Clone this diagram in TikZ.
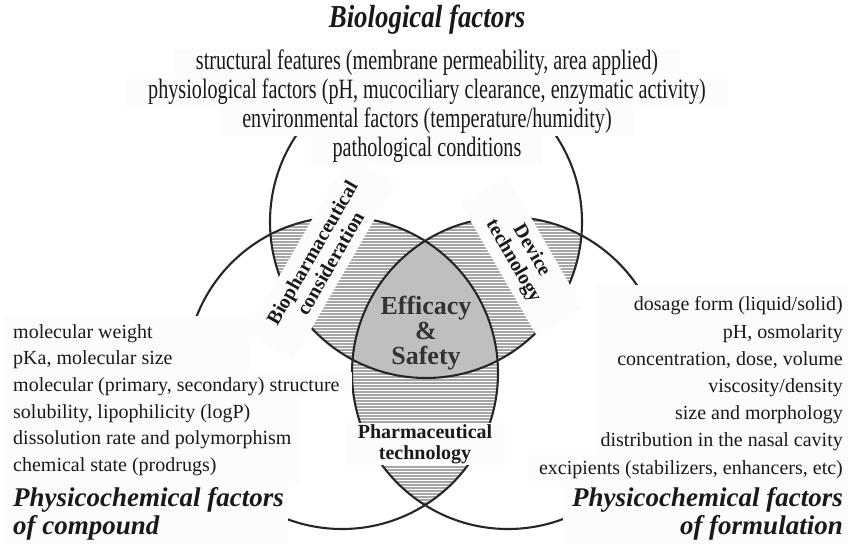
\documentclass[tikz,border=0pt]{standalone}
\usepackage{fontspec}
\setmainfont{Liberation Serif}
\newfontfamily\condserif[FakeStretch=0.72]{Liberation Serif}
\newfontfamily\headserif[FakeStretch=0.84]{Liberation Serif}
\begin{document}
\begin{tikzpicture}[x=1pt,y=-1pt,
        ring/.style={draw=black!85,line width=2.1pt},
        hatch/.style={black!35,line width=1.3pt},
        panel/.style={fill=black!1},
        item/.style={text=black!90,inner sep=0pt,font=\fontsize{20}{26.6}\selectfont},
        head/.style={text=black!90,inner sep=0pt,font=\fontsize{27}{28}\selectfont\bfseries\itshape},
        tag/.style={panel,text=black!90,inner sep=0pt,align=center,font=\fontsize{20}{21}\selectfont\bfseries}]
    \useasboundingbox (0,0) rectangle (848,544);
    \fill[white] (0,0) rectangle (848,544);
    \coordinate (bio) at (426,222);
    \coordinate (cmp) at (342,373);
    \coordinate (frm) at (508,373);
    \begin{scope}
        \clip (bio) circle[radius=156pt];
        \clip (cmp) circle[radius=156pt];
        \foreach \y in {170,173,...,530}
            \draw[hatch] (180,\y) -- (680,\y);
    \end{scope}
    \begin{scope}
        \clip (bio) circle[radius=156pt];
        \clip (frm) circle[radius=156pt];
        \foreach \y in {170,173,...,530}
            \draw[hatch] (180,\y) -- (680,\y);
    \end{scope}
    \begin{scope}
        \clip (cmp) circle[radius=156pt];
        \clip (frm) circle[radius=156pt];
        \foreach \y in {170,173,...,530}
            \draw[hatch] (180,\y) -- (680,\y);
    \end{scope}
    \begin{scope}
        \clip (bio) circle[radius=156pt];
        \clip (cmp) circle[radius=156pt];
        \fill[black!25] (frm) circle[radius=156pt];
    \end{scope}
    \foreach \c in {bio,cmp,frm}
        \draw[ring] (\c) circle[radius=156pt];
    \fill[panel] (4,316) rectangle (250,486);
    \fill[panel] (4,372) rectangle (352,398);
    \fill[panel] (4,398) rectangle (300,486);
    \fill[panel] (4,486) rectangle (288,544);
    \fill[panel] (596,285) rectangle (848,486);
    \fill[panel] (528,455) rectangle (848,486);
    \fill[panel] (563,486) rectangle (848,544);
    \node[text=black!90,inner sep=0pt,font=\headserif\fontsize{32}{32}\selectfont\bfseries\itshape] (biohead) at (427,20) {Biological factors};
    \foreach \t [count=\i] in {{structural features (membrane permeability, area applied)},
            {physiological factors (pH, mucociliary clearance, enzymatic activity)},
            {environmental factors (temperature/humidity)},
            {pathological conditions}}
        \node[panel,text=black!90,inner xsep=22pt,inner ysep=0pt,minimum height=29pt,font=\condserif\fontsize{28}{29}\selectfont] (bioline\i) at (427,34+29*\i) {\t};
    \node[item,anchor=west,align=left] (cmplist) at (13,400) {molecular weight\\pKa, molecular size\\molecular (primary, secondary) structure\\solubility, lipophilicity (logP)\\dissolution rate and polymorphism\\chemical state (prodrugs)};
    \node[item,anchor=east,align=right,font=\fontsize{20}{27.2}\selectfont] (frmlist) at (843,387.5) {dosage form (liquid/solid)\\pH, osmolarity\\concentration, dose, volume\\viscosity/density\\size and morphology\\distribution in the nasal cavity\\excipients (stabilizers, enhancers, etc)};
    \node[head,anchor=west,align=left] (cmphead) at (13,514) {Physicochemical factors\\of compound};
    \node[head,anchor=east,align=right] (frmhead) at (843,514) {Physicochemical factors\\of formulation};
    \node[tag,rotate=60,minimum width=205pt,minimum height=54pt] (biopharm) at (321,258) {Biopharmaceutical\\consideration};
    \node[tag,rotate=-60,minimum width=152pt,minimum height=54pt] (device) at (522,256) {Device\\technology};
    \node[tag,minimum width=160pt,minimum height=42pt] (pharmtech) at (425,444) {Pharmaceutical\\technology};
    \node[text=black!80,inner sep=0pt,align=center,font=\fontsize{26}{25}\selectfont\bfseries] (core) at (426,333) {Efficacy\\\&\\Safety};
\end{tikzpicture}
\end{document}
